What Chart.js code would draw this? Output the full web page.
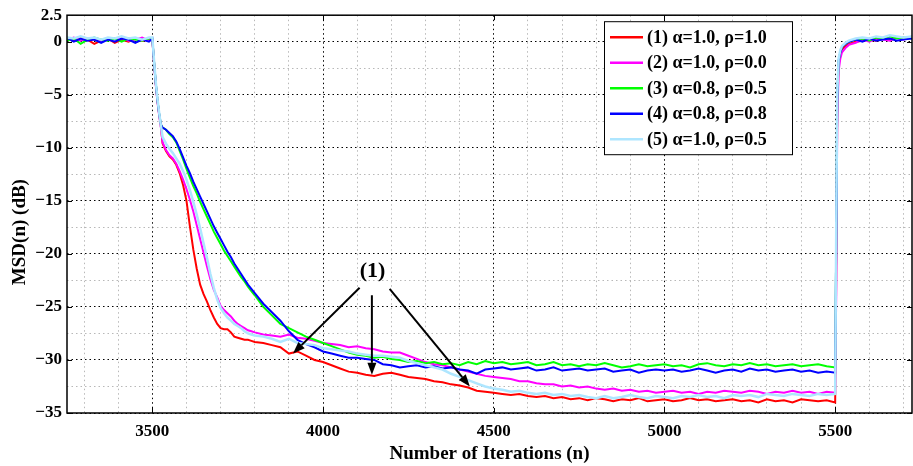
<!DOCTYPE html>
<html>
<head>
<meta charset="utf-8">
<script src="https://cdn.jsdelivr.net/npm/chart.js@4"></script>
<style>
  html, body { margin: 0; padding: 0; background: #fff; }
</style>
</head>
<body>
<canvas id="msd" width="913" height="466"></canvas>
<script>
// iteration index of every sample (denser around the two jumps)
const iterations = [
  3250, 3270, 3290, 3310, 3330, 3350, 3370, 3390, 3410, 3430, 3450, 3470, 3490, 3500,
  3505, 3510, 3515, 3520, 3525, 3530,
  3540, 3550, 3560, 3570, 3580, 3590, 3600, 3610, 3620, 3630, 3640, 3650, 3660, 3670,
  3680, 3690, 3700, 3710, 3720, 3730, 3740, 3750, 3760, 3770, 3780, 3790, 3800,
  3825, 3850, 3875, 3900, 3925, 3950, 3975, 4000, 4025, 4050, 4075, 4100, 4125, 4150, 4175, 4200,
  4225, 4250, 4275, 4300, 4325, 4350, 4375, 4400, 4425, 4450, 4475, 4500, 4525, 4550, 4575, 4600,
  4625, 4650, 4675, 4700, 4725, 4750, 4775, 4800, 4825, 4850, 4875, 4900, 4925, 4950, 4975, 5000,
  5025, 5050, 5075, 5100, 5125, 5150, 5175, 5200, 5225, 5250, 5275, 5300, 5325, 5350, 5375, 5400,
  5425, 5450, 5475, 5500,
  5503, 5506, 5510, 5515, 5520, 5530, 5540, 5560, 5580, 5600, 5620, 5640, 5660, 5680, 5700, 5725
];

// MSD(n) in dB for each setting
const msd1 = [
  0.3, 0.1, 0.4, 0.2, -0.2, 0.1, 0.3, -0.1, 0.2, 0.0, 0.3, 0.1, 0.2, 0.2,
  -2.0, -4.0, -5.6, -6.9, -8.0, -9.6,
  -10.3, -10.8, -11.1, -11.6, -12.4, -13.5, -15.0, -17.4, -19.6, -21.4, -22.9, -23.8, -24.5, -25.3,
  -26.0, -26.6, -27.0, -27.1, -27.1, -27.4, -27.8, -27.9, -28.0, -28.1, -28.1, -28.2, -28.3,
  -28.4, -28.6, -28.8, -29.4, -29.2, -29.6, -30.0, -30.2, -30.5, -30.8, -31.1, -31.2, -31.4, -31.5, -31.3, -31.2,
  -31.4, -31.6, -31.7, -31.8, -32.0, -32.1, -32.3, -32.4, -32.6, -32.9, -33.0, -33.1, -33.2, -33.3, -33.2, -33.4,
  -33.5, -33.4, -33.6, -33.5, -33.7, -33.6, -33.8, -33.6, -33.7, -33.9, -33.7, -33.8, -33.6, -33.9, -33.8, -33.7,
  -33.9, -33.8, -33.6, -33.8, -33.7, -33.9, -33.8, -33.7, -33.9, -33.8, -34.0, -33.7, -33.9, -33.8, -34.0, -33.7,
  -33.8, -33.9, -33.8, -34.0,
  -22.0, -7.0, -2.2, -1.2, -0.7, -0.4, -0.2, 0.0, 0.1, 0.2, 0.1, 0.3, 0.2, 0.4, 0.3, 0.4
];
const msd2 = [
  0.2, 0.4, 0.1, 0.3, 0.2, 0.0, 0.3, 0.2, 0.4, 0.1, 0.2, 0.4, 0.1, 0.2,
  -2.1, -4.1, -5.7, -7.0, -8.1, -9.5,
  -10.2, -10.7, -11.0, -11.5, -12.2, -13.0, -13.9, -14.9, -16.0, -17.3, -18.6, -19.9, -21.2, -22.4,
  -23.4, -24.1, -24.9, -25.3, -25.6, -25.9, -26.3, -26.6, -26.8, -27.0, -27.2, -27.3, -27.4,
  -27.6, -27.7, -27.8, -27.6, -27.9, -28.0, -28.2, -28.4, -28.5, -28.6, -28.8, -28.7, -28.9, -29.0, -29.2, -29.3,
  -29.3, -29.6, -29.9, -30.2, -30.4, -30.5, -30.7, -30.9, -31.1, -31.3, -31.5, -31.6, -31.7, -31.8, -32.0, -32.0,
  -32.2, -32.3, -32.3, -32.5, -32.4, -32.6, -32.5, -32.7, -32.8, -32.7, -32.9, -32.8, -33.0, -32.9, -33.1, -33.0,
  -32.9, -33.1, -33.0, -33.2, -33.0, -33.1, -32.9, -33.0, -33.1, -32.9, -33.0, -33.2, -33.0, -33.1, -32.9, -33.1,
  -33.0, -33.2, -33.0, -33.1,
  -24.0, -8.0, -2.8, -1.6, -1.0, -0.6, -0.3, -0.1, 0.2, 0.0, 0.3, 0.2, 0.1, 0.4, 0.2, 0.5
];
const msd3 = [
  0.1, 0.3, -0.2, 0.2, 0.4, 0.2, 0.1, 0.3, 0.0, 0.3, 0.2, 0.1, 0.3, 0.3,
  -1.9, -3.9, -5.5, -6.8, -7.8, -8.1,
  -8.3, -8.7, -9.0, -9.5, -10.3, -11.1, -12.0, -12.8, -13.6, -14.3, -15.1, -15.8, -16.5, -17.2,
  -17.9, -18.5, -19.1, -19.7, -20.2, -20.7, -21.2, -21.7, -22.2, -22.6, -23.1, -23.5, -23.9,
  -25.0, -25.8, -26.6, -27.0, -27.4, -27.8, -28.1, -28.4, -28.7, -29.0, -29.3, -29.5, -29.6, -29.8, -29.7, -29.9,
  -30.0, -30.2, -30.1, -30.3, -30.2, -30.4, -30.3, -30.5, -30.2, -30.4, -30.1, -30.3, -30.2, -30.4, -30.3, -30.2,
  -30.5, -30.4, -30.2, -30.5, -30.4, -30.6, -30.4, -30.5, -30.3, -30.5, -30.7, -30.6, -30.4, -30.6, -30.5, -30.4,
  -30.6, -30.5, -30.7, -30.4, -30.3, -30.5, -30.6, -30.4, -30.5, -30.3, -30.5, -30.4, -30.6, -30.5, -30.4, -30.6,
  -30.5, -30.4, -30.6, -30.7,
  -19.0, -5.5, -1.8, -1.0, -0.5, -0.2, 0.0, 0.2, 0.3, 0.1, 0.4, 0.3, 0.5, 0.3, 0.4, 0.3
];
const msd4 = [
  0.4, 0.0, 0.3, 0.1, 0.2, -0.1, 0.2, 0.0, 0.3, 0.2, -0.1, 0.2, 0.0, 0.3,
  -1.9, -3.9, -5.5, -6.8, -7.8, -8.1,
  -8.3, -8.6, -8.9, -9.4, -10.1, -10.9, -11.7, -12.4, -13.2, -13.9, -14.6, -15.3, -16.0, -16.7,
  -17.4, -18.0, -18.6, -19.2, -19.8, -20.3, -20.9, -21.4, -21.9, -22.4, -22.9, -23.3, -23.7,
  -24.7, -25.5, -26.3, -27.3, -28.1, -28.5, -28.8, -29.2, -29.4, -29.6, -29.8, -29.8, -29.9, -30.0, -30.4, -30.5,
  -30.7, -30.6, -30.5, -30.7, -30.6, -30.8, -30.7, -30.9, -31.0, -31.3, -30.9, -30.8, -30.7, -30.9, -30.8, -30.7,
  -31.0, -30.9, -30.7, -31.0, -30.9, -30.8, -31.0, -30.9, -30.8, -31.1, -31.0, -30.9, -31.2, -31.0, -30.9, -31.0,
  -30.9, -31.1, -31.0, -30.8, -31.0, -31.2, -31.0, -30.9, -31.1, -30.8, -31.0, -30.9, -31.1, -31.0, -30.9, -31.1,
  -31.0, -31.2, -31.1, -31.2,
  -19.0, -5.5, -1.8, -1.0, -0.5, -0.2, 0.0, 0.2, 0.0, 0.3, 0.1, 0.2, 0.3, 0.1, 0.2, 0.3
];
const msd5 = [
  0.4, 0.3, 0.5, 0.3, 0.4, 0.2, 0.4, 0.3, 0.5, 0.3, 0.4, 0.2, 0.4, 0.4,
  -1.8, -3.8, -5.4, -6.7, -7.9, -9.0,
  -9.6, -10.1, -10.5, -11.0, -11.5, -12.2, -13.0, -14.0, -15.1, -16.3, -17.6, -19.0, -20.4, -21.9,
  -23.2, -24.3, -25.1, -25.6, -26.0, -26.3, -26.6, -26.8, -27.0, -27.3, -27.5, -27.6, -27.7,
  -27.8, -28.0, -28.3, -28.0, -28.4, -28.5, -28.6, -28.9, -29.0, -29.1, -29.2, -29.4, -29.5, -29.6, -29.6, -29.7,
  -29.8, -30.1, -30.3, -30.5, -30.7, -30.9, -31.3, -31.6, -31.9, -32.2, -32.5, -32.7, -32.8, -33.0, -32.9, -33.1,
  -33.2, -33.1, -33.3, -33.2, -33.4, -33.3, -33.5, -33.6, -33.4, -33.6, -33.5, -33.3, -33.5, -33.6, -33.4, -33.5,
  -33.6, -33.4, -33.5, -33.3, -33.5, -33.4, -33.6, -33.3, -33.4, -33.3, -33.5, -33.2, -33.3, -33.4, -33.2, -33.3,
  -33.4, -33.2, -33.3, -33.2,
  -18.0, -5.0, -1.6, -0.8, -0.4, -0.1, 0.1, 0.3, 0.4, 0.3, 0.5, 0.4, 0.6, 0.5, 0.4, 0.5
];

const seriesLabels = [
  "(1) \u03b1=1.0, \u03c1=1.0",
  "(2) \u03b1=1.0, \u03c1=0.0",
  "(3) \u03b1=0.8, \u03c1=0.5",
  "(4) \u03b1=0.8, \u03c1=0.8",
  "(5) \u03b1=1.0, \u03c1=0.5"
];
const seriesColors = ["#ff0000", "#ff00ff", "#00ff00", "#0000ff", "#aee6ff"];

// annotation "(1)" pointing at the red curve (data coordinates)
const noteText = "(1)";
const notePos = [4145, -21.6];
const arrowTails = [[4107, -23.2], [4143, -23.9], [4195, -23.3]];
const arrowTips = [[3912, -29.4], [4143, -31.4], [4430, -32.5]];

const yTitle = "MSD(n) (dB)";
const FONT = "'Liberation Serif', 'Times New Roman', serif";

const allSeries = [msd1, msd2, msd3, msd4, msd5];
const datasets = allSeries.map((vals, i) => ({
  label: seriesLabels[i],
  data: vals.map((v, k) => ({ x: iterations[k], y: v })),
  borderColor: seriesColors[i],
  borderWidth: i === 4 ? 2.5 : 2,
  pointRadius: 0,
  tension: 0,
  order: 4 - i
}));

function minus(v) {
  return v < 0 ? "\u2212" + Math.abs(v) : String(v);
}

const matlabFrame = {
  id: "matlabFrame",
  afterDatasetsDraw(chart) {
    const { ctx, chartArea: a, scales } = chart;
    ctx.save();
    // major ticks, inward on all four sides
    ctx.strokeStyle = "#000";
    ctx.lineWidth = 1;
    ctx.beginPath();
    scales.x.ticks.forEach(t => {
      if (t.value % 500 !== 0) return;
      const px = Math.round(scales.x.getPixelForValue(t.value)) + 0.5;
      ctx.moveTo(px, a.bottom); ctx.lineTo(px, a.bottom - 5);
      ctx.moveTo(px, a.top); ctx.lineTo(px, a.top + 5);
    });
    scales.y.ticks.forEach(t => {
      if (t.value % 5 !== 0) return;
      const py = Math.round(scales.y.getPixelForValue(t.value)) + 0.5;
      ctx.moveTo(a.left, py); ctx.lineTo(a.left + 5, py);
      ctx.moveTo(a.right, py); ctx.lineTo(a.right - 5, py);
    });
    ctx.stroke();
    ctx.lineWidth = 1.5;
    ctx.strokeRect(a.left, a.top, a.right - a.left, a.bottom - a.top);

    // y axis title, sitting a little below the middle as in the original
    ctx.fillStyle = "#000";
    ctx.font = "bold 19px " + FONT;
    ctx.textAlign = "center";
    ctx.textBaseline = "middle";
    ctx.save();
    ctx.translate(20, (a.top + a.bottom) / 2 + 18);
    ctx.rotate(-Math.PI / 2);
    ctx.fillText(yTitle, 0, 0);
    ctx.restore();

    // arrows
    ctx.lineWidth = 2;
    arrowTails.forEach((tail, i) => {
      const x0 = scales.x.getPixelForValue(tail[0]);
      const y0 = scales.y.getPixelForValue(tail[1]);
      const x1 = scales.x.getPixelForValue(arrowTips[i][0]);
      const y1 = scales.y.getPixelForValue(arrowTips[i][1]);
      const ang = Math.atan2(y1 - y0, x1 - x0);
      const len = 12, half = 4.5;
      const bx = x1 - len * Math.cos(ang), by = y1 - len * Math.sin(ang);
      ctx.beginPath();
      ctx.moveTo(x0, y0); ctx.lineTo(bx, by);
      ctx.stroke();
      ctx.beginPath();
      ctx.moveTo(x1, y1);
      ctx.lineTo(bx + half * Math.sin(ang), by - half * Math.cos(ang));
      ctx.lineTo(bx - half * Math.sin(ang), by + half * Math.cos(ang));
      ctx.closePath();
      ctx.fill();
    });
    ctx.font = "bold 22px " + FONT;
    ctx.fillText(noteText, scales.x.getPixelForValue(notePos[0]), scales.y.getPixelForValue(notePos[1]));

    // legend box
    const lx = a.left + 537, ly = a.top + 6, lw = 188, lh = 133;
    ctx.fillStyle = "#fff";
    ctx.fillRect(lx, ly, lw, lh);
    ctx.lineWidth = 1;
    ctx.strokeStyle = "#000";
    ctx.strokeRect(lx + 0.5, ly + 0.5, lw, lh);
    ctx.font = "bold 18px " + FONT;
    ctx.textAlign = "left";
    chart.data.datasets.forEach((ds, i) => {
      const ry = ly + 16 + i * 25.5;
      ctx.strokeStyle = ds.borderColor;
      ctx.lineWidth = 2.5;
      ctx.beginPath();
      ctx.moveTo(lx + 6, ry); ctx.lineTo(lx + 39, ry);
      ctx.stroke();
      ctx.fillStyle = "#000";
      ctx.fillText(ds.label, lx + 43, ry + 1);
    });
    ctx.restore();
  }
};

new Chart(document.getElementById("msd"), {
  type: "line",
  data: { datasets: datasets },
  options: {
    responsive: false,
    animation: false,
    devicePixelRatio: 1,
    layout: { padding: { left: 0, right: 1, top: 13, bottom: 0 } },
    plugins: { legend: { display: false }, tooltip: { enabled: false } },
    scales: {
      x: {
        type: "linear",
        min: 3250,
        max: 5725,
        afterFit: s => { s.height = 53; },
        ticks: {
          stepSize: 100,
          includeBounds: false,
          autoSkip: false,
          maxRotation: 0,
          padding: 8,
          color: "#000",
          font: { family: FONT, size: 17, weight: "bold" },
          callback: v => (v % 500 === 0 ? String(v) : "")
        },
        grid: {
          drawTicks: false,
          lineWidth: 1,
          color: c => (c.tick && c.tick.value % 500 === 0 ? "#000" : "#b8b8b8")
        },
        border: { display: false, dash: [1.5, 3] },
        title: {
          display: true,
          text: "Number of Iterations (n)",
          color: "#000",
          font: { family: FONT, size: 19, weight: "bold" },
          padding: { top: 0, bottom: 1 }
        }
      },
      y: {
        min: -35,
        max: 2.5,
        afterFit: s => { s.width = 67; },
        ticks: {
          stepSize: 2.5,
          includeBounds: false,
          autoSkip: false,
          padding: 5,
          color: "#000",
          font: { family: FONT, size: 17, weight: "bold" },
          callback: v => (v % 5 === 0 || v === 2.5 ? minus(v) : "")
        },
        grid: {
          drawTicks: false,
          lineWidth: 1,
          color: c => (c.tick && c.tick.value % 5 === 0 ? "#000" : "#b8b8b8")
        },
        border: { display: false, dash: [1.5, 3] }
      }
    }
  },
  plugins: [matlabFrame]
});
</script>
</body>
</html>
